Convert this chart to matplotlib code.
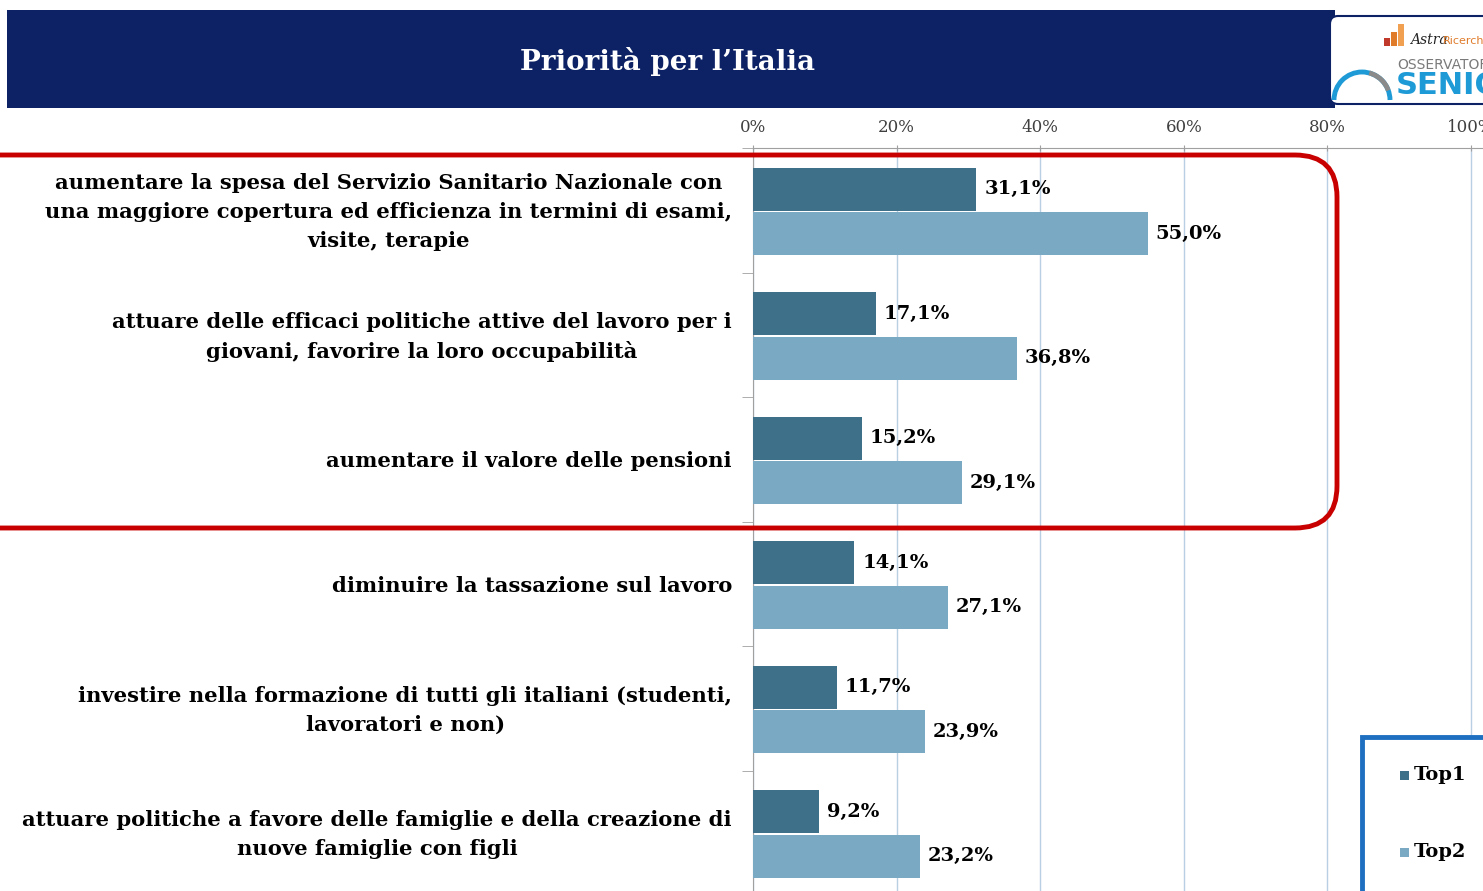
import numpy as np
import matplotlib
matplotlib.use("Agg")
import matplotlib.pyplot as plt
import matplotlib.transforms as mtransforms
from matplotlib.patches import Rectangle, FancyBboxPatch, Arc

# data
categories = [
    "aumentare la spesa del Servizio Sanitario Nazionale con\nuna maggiore copertura ed efficienza in termini di esami,\nvisite, terapie",
    "attuare delle efficaci politiche attive del lavoro per i\ngiovani, favorire la loro occupabilità",
    "aumentare il valore delle pensioni",
    "diminuire la tassazione sul lavoro",
    "investire nella formazione di tutti gli italiani (studenti,\nlavoratori e non)",
    "attuare politiche a favore delle famiglie e della creazione di\nnuove famiglie con figli",
]
top1 = [31.1, 17.1, 15.2, 14.1, 11.7, 9.2]
top2 = [55.0, 36.8, 29.1, 27.1, 23.9, 23.2]
xticks = [0, 20, 40, 60, 80, 100]

C_TOP1 = "#3e7189"
C_TOP2 = "#7aaac3"
NAVY = "#0c2265"
SERIF = "DejaVu Serif"

W, H = 1483, 891
fig = plt.figure(figsize=(W / 100, H / 100), dpi=100)
fig.patch.set_facecolor("white")

def px(x, y):
    # pixel (top-left origin) -> inches
    return x / 100, (H - y) / 100

tr = fig.dpi_scale_trans

# title banner
x0, y0 = px(7, 108)
fig.patches.append(Rectangle((x0, y0), (1335 - 7) / 100, (108 - 10) / 100,
                             transform=tr, facecolor=NAVY, edgecolor="none", zorder=0))
fig.text(667 / W, 1 - 62 / H, "Priorità per l’Italia", color="white", fontsize=20,
         fontweight="bold", family=SERIF, ha="center", va="center")

# logo box (clipped by the right edge, as in the original)
lx, ly = px(1330, 104)
fig.patches.append(FancyBboxPatch((lx, ly), 2.0, 0.88, transform=tr,
                                  boxstyle="round,pad=0,rounding_size=0.08",
                                  facecolor="white", edgecolor=NAVY, lw=1.5, zorder=1))
for i, (bx, bh) in enumerate([(1384, 8), (1391, 14), (1398, 22)]):
    rx, ry = px(bx, 46)
    fig.patches.append(Rectangle((rx, ry), 0.055, bh / 100, transform=tr,
                                 facecolor=["#c0392b", "#e07b2a", "#f0a050"][i], zorder=2))
fig.text(1410 / W, 1 - 40 / H, "Astra", color="#222222", fontsize=10, style="italic",
         family=SERIF, ha="left", va="center", zorder=3)
fig.text(1443 / W, 1 - 41 / H, "Ricerche", color="#e07b2a", fontsize=8,
         ha="left", va="center", zorder=3)
fig.text(1397 / W, 1 - 65 / H, "OSSERVATORIO", color="#7a7a7a", fontsize=10,
         family=["Liberation Sans Narrow", "DejaVu Sans"], ha="left", va="center", zorder=3)
fig.text(1396 / W, 1 - 86 / H, "SENIOR", color="#1e9ad6", fontsize=22, fontweight="bold",
         family=["Liberation Sans Narrow", "DejaVu Sans"], ha="left", va="center", zorder=3)
cx, cy = px(1362, 100)
fig.patches.append(Arc((cx, cy), 0.56, 0.56, theta1=0, theta2=180, transform=tr,
                       color="#1e9ad6", lw=3.5, zorder=2))
fig.patches.append(Arc((cx, cy), 0.56, 0.56, theta1=20, theta2=75, transform=tr,
                       color="#8a8a8a", lw=3.5, zorder=2))

# main axes
left = 753 / W
top = 1 - 148 / H
bottom = -4 / H
ax = fig.add_axes([left, bottom, 1 - left, top - bottom])
ax.set_xlim(0, (W - 753) / 7.18)
ax.set_ylim(len(categories), 0)

y = np.arange(len(categories)) + 0.5
bh = 0.345
ax.barh(y - 0.168, top1, height=bh, color=C_TOP1, zorder=3, label="Top1")
ax.barh(y + 0.19, top2, height=bh, color=C_TOP2, zorder=3, label="Top2")

for yi, v in zip(y - 0.168, top1):
    ax.text(v + 1.1, yi, f"{v:.1f}%".replace(".", ","), va="center", ha="left",
            fontsize=14, fontweight="bold", family=SERIF, zorder=4)
for yi, v in zip(y + 0.19, top2):
    ax.text(v + 1.1, yi, f"{v:.1f}%".replace(".", ","), va="center", ha="left",
            fontsize=14, fontweight="bold", family=SERIF, zorder=4)

ax.xaxis.tick_top()
ax.set_xticks(xticks)
ax.set_xticklabels([f"{t}%" for t in xticks], family=SERIF, fontsize=12, color="#404040")
ax.tick_params(axis="x", length=5, color="#a0a0a0", pad=6, direction="inout")
ax.grid(axis="x", color="#b9cfe2", lw=1, zorder=0)

# category labels, multi-line ones nudged up a little
ax.set_yticks(y)
ax.set_yticklabels([])
ax.tick_params(axis="y", length=0)
for yi, lab in zip(y, categories):
    dy = 4.5 if "\n" in lab else 0
    off = mtransforms.ScaledTranslation(-21 / 100, dy / 100, fig.dpi_scale_trans)
    ax.text(0, yi, lab, transform=ax.transData + off, ha="right", va="center_baseline",
            multialignment="center", family=SERIF, fontsize=15.2, fontweight="bold",
            linespacing=1.55, clip_on=False)
ax.set_yticks(np.arange(0, len(categories) + 1), minor=True)
ax.tick_params(axis="y", which="minor", length=8, color="#a0a0a0")

for s in ["right", "bottom"]:
    ax.spines[s].set_visible(False)
ax.spines["top"].set_color("#a0a0a0")
ax.spines["left"].set_color("#a0a0a0")
ax.set_facecolor("white")

# red highlight frame around the first three items
rx, ry = px(-60, 528)
fig.patches.append(FancyBboxPatch((rx, ry), (1337 + 60) / 100, (528 - 155) / 100,
                                  transform=tr, boxstyle="round,pad=0,rounding_size=0.42",
                                  facecolor="none", edgecolor="#c80000", lw=3.5, zorder=10))

# legend box
gx, gy = px(1362, 910)
fig.patches.append(Rectangle((gx, gy), 1.6, (910 - 737) / 100, transform=tr,
                             facecolor="white", edgecolor="#1f6fc1", lw=3.5, zorder=10))
for ty, lab, col in [(775, "Top1", C_TOP1), (852, "Top2", C_TOP2)]:
    sx, sy = px(1400, ty + 5)
    fig.patches.append(Rectangle((sx, sy), 0.09, 0.09, transform=tr,
                                 facecolor=col, edgecolor="none", zorder=11))
    fig.text(1414 / W, 1 - ty / H, lab, fontsize=14, fontweight="bold", family=SERIF,
             ha="left", va="center", zorder=11)

fig.savefig("out.png", dpi=100)
